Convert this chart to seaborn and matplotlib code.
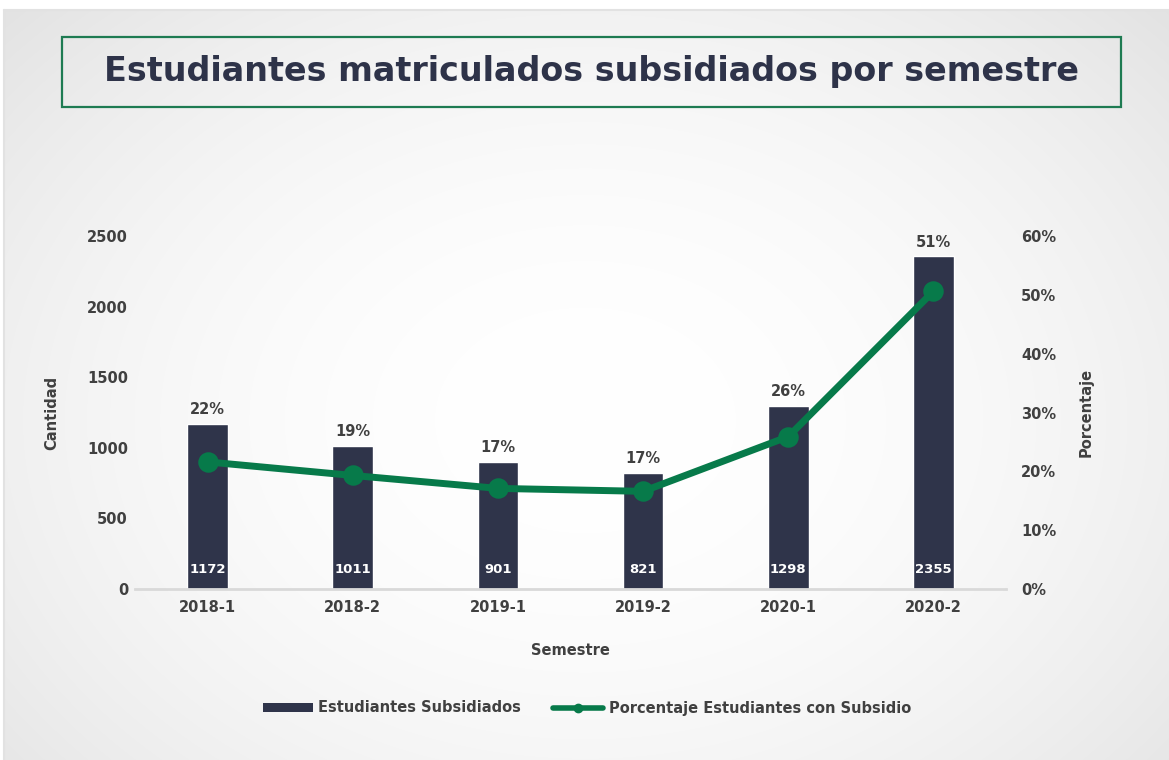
import numpy as np
import pandas as pd
import matplotlib
matplotlib.use("Agg")
import matplotlib.pyplot as plt
from matplotlib.patches import Rectangle, Patch
from matplotlib.lines import Line2D
import seaborn as sns

semestres = ["2018-1", "2018-2", "2019-1", "2019-2", "2020-1", "2020-2"]
estudiantes = [1172, 1011, 901, 821, 1298, 2355]
porcentaje = [0.216, 0.193, 0.171, 0.166, 0.259, 0.506]

NAVY = "#2F344A"
GREEN = "#077A4A"
TXT = "#404040"
FONT = ["DejaVu Sans"]
FS = 10.5

sns.set_theme(style="white")
plt.rcParams["font.family"] = FONT
plt.rcParams["font.weight"] = "bold"

W, H = 1169, 760
fig = plt.figure(figsize=(W / 100, H / 100), dpi=100)

# background radial gradient
bg = fig.add_axes([0, 0, 1, 1], zorder=-10)
yy, xx = np.mgrid[0:H, 0:W]
r = np.sqrt(((xx - 585) / 720.0) ** 2 + ((yy - 420) / 540.0) ** 2)
val = 1.0 - 0.09 * np.clip(r, 0, 1.2) ** 2.0
img = np.dstack([val, val, val])
img[:10, :, :] = 1.0
img[:, :4, :] = 1.0
bg.imshow(img, extent=[0, W, H, 0], aspect="auto", interpolation="bilinear")
bg.plot([4, W], [10, 10], color="#E2E2E2", lw=1.5)
bg.plot([4, 4], [10, H], color="#E2E2E2", lw=1.5)
bg.set_xlim(0, W)
bg.set_ylim(H, 0)
bg.axis("off")

# title box
bg.add_patch(Rectangle((62, 37), 1059, 70, fill=False,
                       edgecolor="#1E7B52", lw=1.6))
bg.text(591, 72, "Estudiantes matriculados subsidiados por semestre",
        ha="center", va="center", fontsize=24, fontweight="bold",
        color="#2E3349", family=FONT)

df = pd.DataFrame({"Semestre": semestres, "Estudiantes": estudiantes,
                   "Porcentaje": porcentaje})

ax = fig.add_axes([135 / W, 1 - 589 / H, (1006 - 135) / W, (589 - 236) / H])
ax.set_facecolor("none")
sns.barplot(data=df, x="Semestre", y="Estudiantes", color=NAVY, width=0.28,
            saturation=1, ax=ax, zorder=2)
ax.set_ylim(0, 2500)
ax.set_xlim(-0.5, 5.5)
ax.set_yticks([0, 500, 1000, 1500, 2000, 2500])
for s in ["top", "right", "left"]:
    ax.spines[s].set_visible(False)
ax.spines["bottom"].set_color("#D9D9D9")
ax.spines["bottom"].set_linewidth(2)
ax.tick_params(axis="both", length=0, labelsize=FS, labelcolor=TXT)
ax.tick_params(axis="y", pad=5)
ax.tick_params(axis="x", pad=8)
for lab in ax.get_xticklabels() + ax.get_yticklabels():
    lab.set_fontweight("bold")
ax.set_xlabel("Semestre", fontsize=FS, fontweight="bold", color=TXT, labelpad=20)
ax.set_ylabel("Cantidad", fontsize=FS, fontweight="bold", color=TXT, labelpad=20)

for i, v in enumerate(estudiantes):
    ax.text(i, 140, f"{v}", ha="center", va="center", color="white",
            fontsize=9.5, fontweight="bold", zorder=5)
    ax.annotate(f"{porcentaje[i]:.0%}", (i, v), xytext=(0, 5),
                textcoords="offset points", ha="center", va="bottom",
                fontsize=FS, fontweight="bold", color=TXT, zorder=5)

ax2 = ax.twinx()
sns.pointplot(data=df, x="Semestre", y="Porcentaje", color=GREEN, ax=ax2,
              markers="o", markersize=11, linewidth=5, zorder=4)
ax2.set_ylim(0, 0.6)
ax2.set_xlim(-0.5, 5.5)
ax2.set_yticks(np.arange(0, 0.61, 0.1))
ax2.set_yticklabels([f"{int(round(t * 100))}%" for t in np.arange(0, 0.61, 0.1)])
for s in ["top", "right", "left", "bottom"]:
    ax2.spines[s].set_visible(False)
ax2.tick_params(axis="y", length=0, labelsize=FS, labelcolor=TXT, pad=11)
for lab in ax2.get_yticklabels():
    lab.set_fontweight("bold")
ax2.set_ylabel("Porcentaje", fontsize=FS, fontweight="bold", color=TXT, labelpad=16)
ax2.set_xlabel("")

handles = [Patch(facecolor=NAVY, edgecolor="none"),
           Line2D([0], [0], color=GREEN, lw=4, marker="o", markersize=6)]
leg = fig.legend(handles, ["Estudiantes Subsidiados", "Porcentaje Estudiantes con Subsidio"],
                 loc="center", bbox_to_anchor=(587 / W, 1 - 708 / H), ncol=2,
                 frameon=False, fontsize=FS, handlelength=3.4, handleheight=0.6,
                 columnspacing=2.2, handletextpad=0.4)
for t in leg.get_texts():
    t.set_color(TXT)
    t.set_fontweight("bold")

fig.savefig("out.png", dpi=100)
